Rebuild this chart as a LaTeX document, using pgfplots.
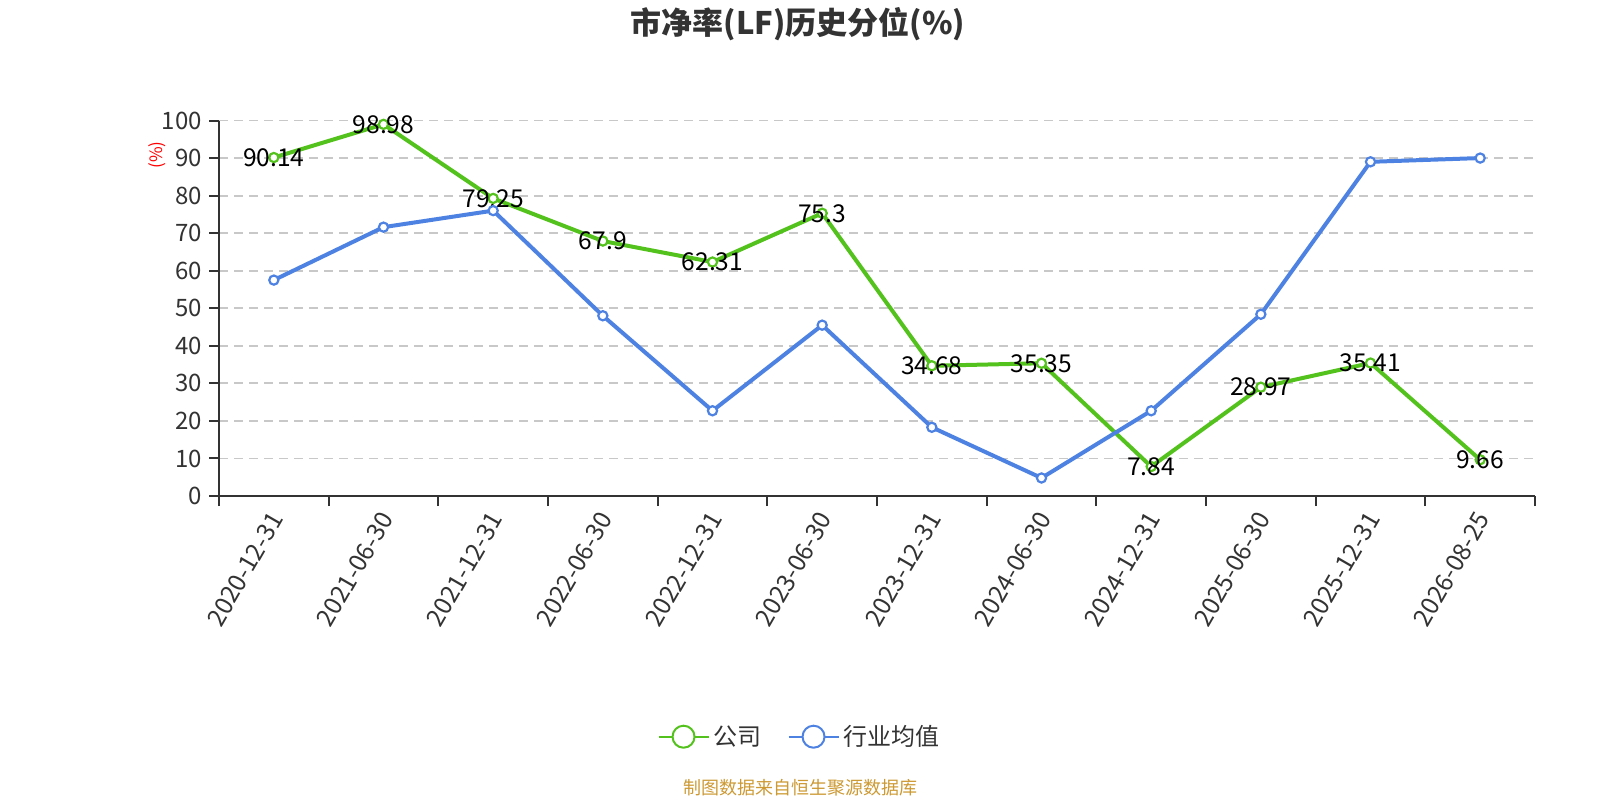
\documentclass[border=0pt]{standalone}
\usepackage{fontspec}
\setmainfont{Noto Sans CJK SC}
\usepackage{pgfplots}
\pgfplotsset{compat=1.18}
\definecolor{cgreen}{RGB}{84,194,28}
\definecolor{cblue}{RGB}{78,130,226}
\definecolor{ctext}{RGB}{51,51,51}
\definecolor{cgrid}{RGB}{200,200,200}
\definecolor{csrc}{RGB}{204,153,51}
\newcommand\fs[1]{\fontsize{#1}{#1}\selectfont}
\begin{document}
\begin{tikzpicture}
\path[use as bounding box] (0,0) rectangle (800pt,400pt);
\begin{axis}[
  at={(109.5pt,152pt)}, anchor=south west,
  scale only axis, width=658pt, height=187.75pt,
  xmin=-0.5, xmax=11.5, ymin=0, ymax=100,
  axis x line=bottom, axis y line=left,
  axis line style={-, color=ctext, line width=1pt},
  tick align=outside,
  xtick={0,...,11},
  xticklabels={2020-12-31,2021-06-30,2021-12-31,2022-06-30,2022-12-31,2023-06-30,2023-12-31,2024-06-30,2024-12-31,2025-06-30,2025-12-31,2026-08-25},
  major x tick style={draw=none},
  minor xtick={-0.5,0.5,...,11.5},
  minor x tick style={color=ctext, line width=1pt},
  minor tick length=5pt,
  ytick={0,10,...,100},
  y tick style={color=ctext, line width=1pt},
  major tick length=5pt,
  ymajorgrids,
  major grid style={color=cgrid, line width=0.9pt, dash pattern=on 4.5pt off 3pt},
  /pgf/number format/assume math mode=true,
  yticklabel style={font=\fs{12pt}, text=ctext},
  xticklabel style={font=\fs{12.3pt}, text=ctext, rotate=60, anchor=east, yshift=-3.5pt, xshift=0.5pt},
  clip=false,
  point meta=explicit symbolic,
  every node near coord/.append style={anchor=center, font=\fs{12.3pt}, text=black},
  legend style={at={(0.4419,-0.641)}, anchor=center, draw=none, fill=none,
    legend columns=2, font=\fs{12pt}, text=ctext,
    /tikz/every even column/.append style={column sep=11pt},
    legend cell align=left},
  legend image code/.code={\draw[#1, mark=none, line width=1pt] (0pt,0pt) -- (25pt,0pt);
    \draw[#1, mark=none, line width=1pt, fill=white] (12.5pt,0pt) circle (5.5pt);},
]
\addplot[color=cgreen, line width=2pt, mark=*, mark size=2.3pt, mark options={fill=white, line width=1.1pt}, nodes near coords]
coordinates {
(0,90.14) [90.14]
(1,98.98) [98.98]
(2,79.25) [79.25]
(3,67.9) [67.9]
(4,62.31) [62.31]
(5,75.3) [75.3]
(6,34.68) [34.68]
(7,35.35) [35.35]
(8,7.84) [7.84]
(9,28.97) [28.97]
(10,35.41) [35.41]
(11,9.66) [9.66]
};
\addlegendentry{公司}
\addplot[color=cblue, line width=2pt, mark=*, mark size=2.3pt, mark options={fill=white, line width=1.1pt}]
coordinates {
(0,57.5)
(1,71.6)
(2,76.0)
(3,48.0)
(4,22.7)
(5,45.5)
(6,18.3)
(7,4.8)
(8,22.7)
(9,48.4)
(10,89.0)
(11,90.0)
};
\addlegendentry{行业均值}
\end{axis}
\node[font=\fs{15.5pt}\bfseries, text=ctext] at (399pt,388pt) {市净率(LF)历史分位(\%)};
\node[font=\fs{8.5pt}, text=red, rotate=90] at (78.5pt,322.5pt) {(\%)};
\node[font=\fs{9pt}, text=csrc] at (400pt,6pt) {制图数据来自恒生聚源数据库};
\end{tikzpicture}
\end{document}
